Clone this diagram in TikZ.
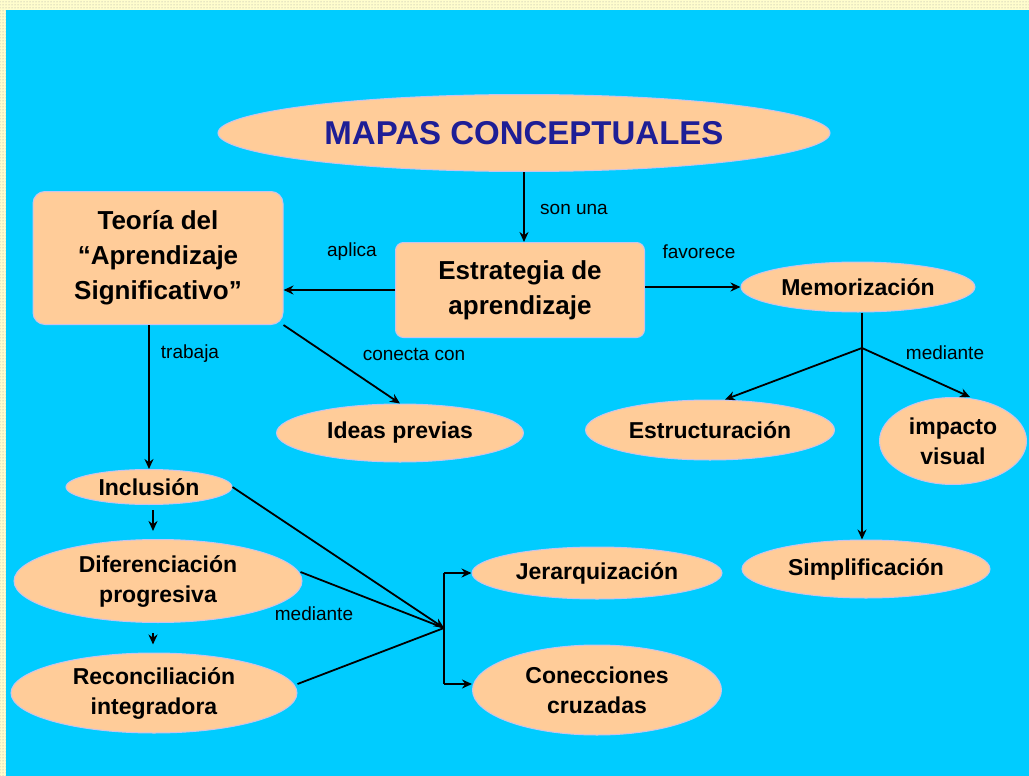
\documentclass[tikz,border=0pt]{standalone}
\usepackage{fontspec}
\setmainfont{Liberation Sans}
\usetikzlibrary{arrows.meta,positioning,calc,shapes.geometric,patterns}
\definecolor{skybg}{RGB}{0,204,255}
\definecolor{peach}{RGB}{255,204,153}
\definecolor{rimline}{RGB}{200,195,235}
\definecolor{titleblue}{RGB}{30,30,150}
\definecolor{frameyellow}{RGB}{255,253,205}
\tikzset{
  conceptbox/.style={draw=rimline, line width=1pt, fill=peach, rounded corners=10pt,
    align=center, inner sep=0pt, font=\fontsize{26}{35}\selectfont\bfseries},
  conceptoval/.style={ellipse, draw=rimline, line width=1pt, fill=peach,
    align=center, inner sep=0pt, font=\fontsize{23}{30}\selectfont\bfseries},
  edge/.style={-{Stealth[length=10pt,width=9pt]}, line width=1.8pt},
  plainedge/.style={line width=1.8pt},
  linktxt/.style={font=\fontsize{19}{22}\selectfont, inner sep=0pt},
}

\begin{document}
\begin{tikzpicture}[x=1pt, y=-1pt]

  % frame and background
  \useasboundingbox (0,0) rectangle (1029,776);
  \fill[frameyellow] (0,0) rectangle (1029,776);
  \fill[pattern=dots, pattern color=gray!75] (0,0) rectangle (1029,776);
  \fill[skybg] (6,10) rectangle (1029,776);

  % concepts
  \node[conceptoval, minimum width=612, minimum height=77, text=titleblue,
    font=\fontsize{33}{36}\selectfont\bfseries] (mapas) at (524,133) {MAPAS CONCEPTUALES};
  \node[conceptbox, minimum width=250, minimum height=133, rounded corners=12pt] (teoria) at (158,258)
    {Teoría del\\“Aprendizaje\\Significativo”};
  \node[conceptbox, minimum width=249, minimum height=95, rounded corners=8pt] (estrat) at (520,290)
    {Estrategia de\\aprendizaje};
  \node[conceptoval, minimum width=234, minimum height=50] (memo) at (858,287) {Memorización};
  \node[conceptoval, minimum width=247, minimum height=58] (ideas) at (400,433) {Ideas previas};
  \node[conceptoval, minimum width=249, minimum height=60] (estruc) at (710,430) {Estructuración};
  \node[conceptoval, minimum width=147, minimum height=87] (impacto) at (953,441) {impacto\\visual};
  \node[conceptoval, minimum width=248, minimum height=58] (simpl) at (866,569) {Simplificación};
  \node[conceptoval, minimum width=166, minimum height=35] (inclu) at (149,487) {Inclusión};
  \node[conceptoval, minimum width=288, minimum height=83] (difer) at (158,581) {Diferenciación\\progresiva};
  \node[conceptoval, minimum width=286, minimum height=80] (recon) at (154,693) {Reconciliación\\integradora};
  \node[conceptoval, minimum width=250, minimum height=52] (jerar) at (597,573) {Jerarquización};
  \node[conceptoval, minimum width=249, minimum height=90] (conec) at (597,690) {Conecciones\\cruzadas};

  % junctions
  \coordinate (memj) at (862,348);
  \coordinate (medj) at (444,628);

  % links
  \draw[edge] (mapas.south) -- (mapas.south |- estrat.north);
  \draw[edge] (estrat.west) -- (estrat.west -| teoria.east);
  \draw[edge] (estrat.east |- memo.west) -- (memo.west);
  \draw[edge] (teoria.south -| inclu.north) -- (inclu.north);
  \draw[edge] (teoria.south east) -- (ideas.north);

  \draw[plainedge] (memj |- memo.south) -- (memj);
  \draw[edge] (memj) -- ($(estruc.north)+(15,0)$);
  \draw[edge] (memj) -- ($(impacto.north)+(17,0)$);
  \draw[edge] (memj) -- (memj |- simpl.north);

  \draw[edge, shorten <=5pt, shorten >=8pt] (inclu.south -| 153,0) -- (difer.north -| 153,0);
  \draw[edge, shorten <=10pt, shorten >=8pt] (difer.south -| 153,0) -- (recon.north -| 153,0);

  \draw[edge] (inclu.east) -- (medj);
  \draw[plainedge] ($(difer.east)+(-2,-9)$) -- (medj);
  \draw[plainedge] ($(recon.east)+(0,-9)$) -- (medj);
  \draw[plainedge] (medj |- jerar.west) -- ($(medj |- conec.west)+(0,-6)$);
  \draw[edge] (medj |- jerar.west) -- (jerar.west);
  \draw[edge] ($(medj |- conec.west)+(0,-6)$) -- ($(conec.west)+(0,-6)$);

  % link words
  \node[linktxt, anchor=west] (sonuna) at (540,209) {son una};
  \node[linktxt] (aplica) at (352,252) {aplica};
  \node[linktxt] (favorece) at (699,252) {favorece};
  \node[linktxt] (trabaja) at (190,354) {trabaja};
  \node[linktxt] (conecta) at (414,354) {conecta con};
  \node[linktxt] (medmem) at (945,353) {mediante};
  \node[linktxt] (medinc) at (314,614) {mediante};

\end{tikzpicture}
\end{document}
